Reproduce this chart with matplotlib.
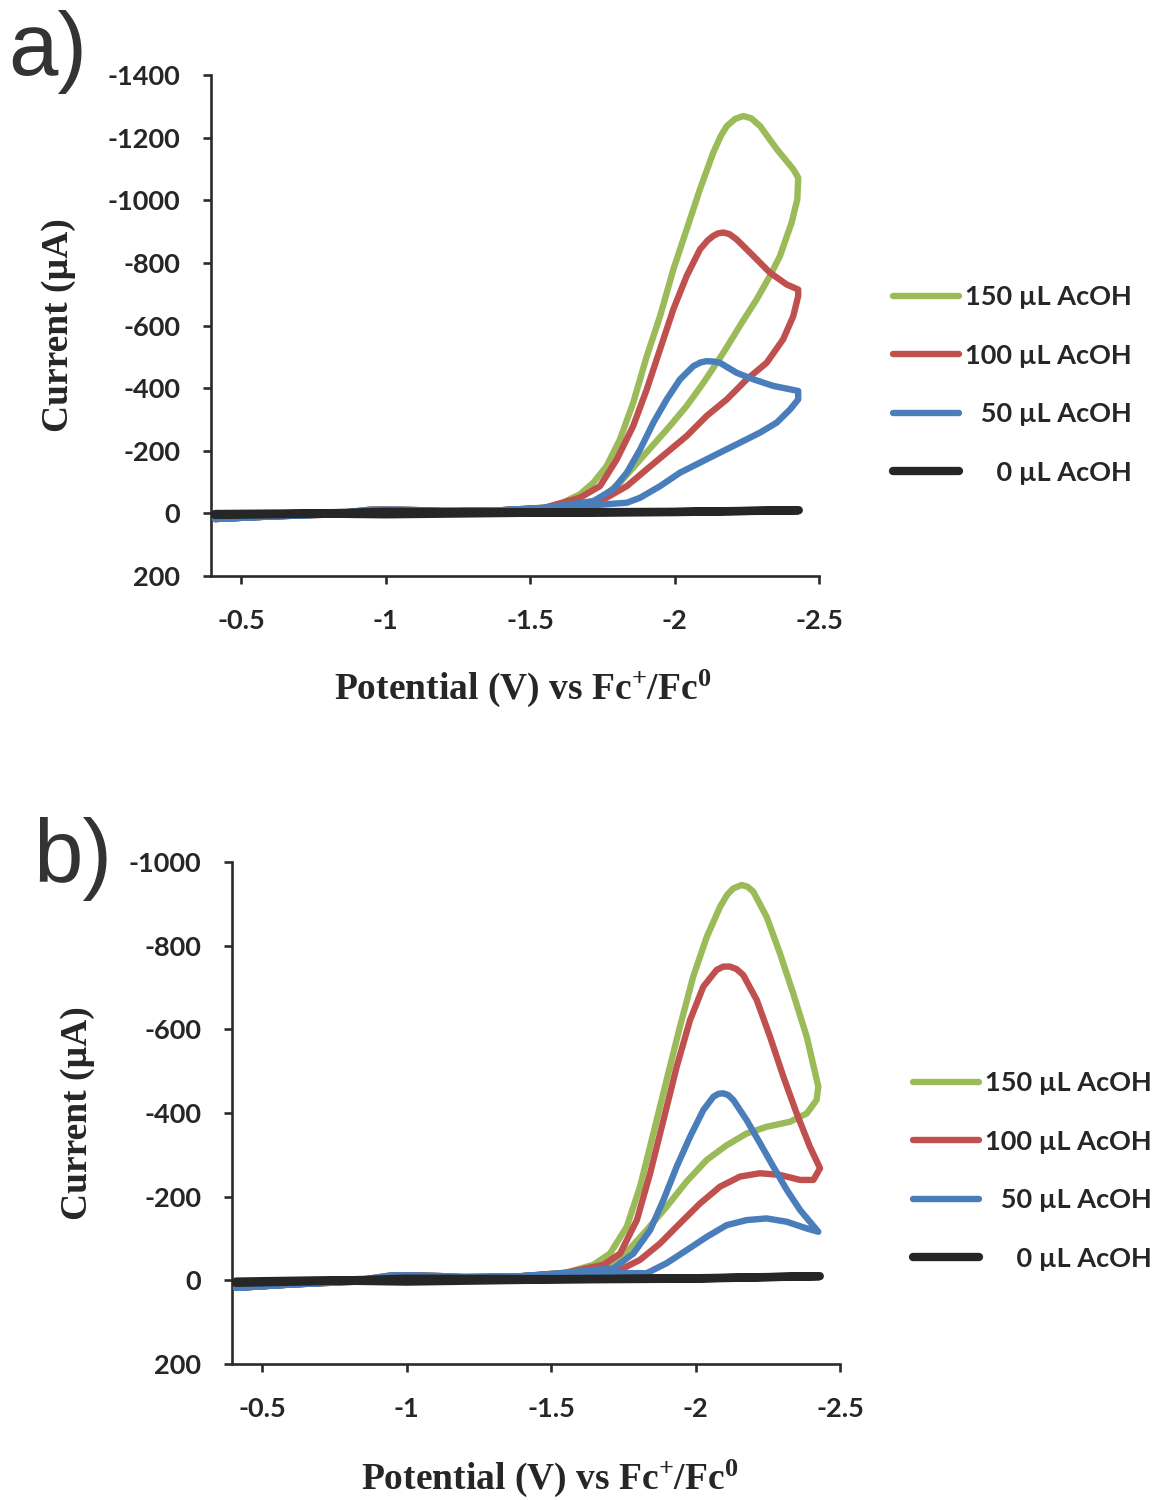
import numpy as np
import matplotlib
matplotlib.use("Agg")
import matplotlib.pyplot as plt
from matplotlib.ticker import FormatStrFormatter

plt.rcParams["font.family"] = ["Lato", "DejaVu Sans"]
plt.rcParams["axes.unicode_minus"] = False
plt.rcParams["mathtext.fontset"] = "custom"
plt.rcParams["mathtext.rm"] = "Liberation Serif:bold"
plt.rcParams["mathtext.bf"] = "Liberation Serif:bold"
plt.rcParams["mathtext.default"] = "rm"

LABELS = ["150 µL AcOH", "100 µL AcOH", "\u200750 µL AcOH", "\u2007\u20070 µL AcOH"]
COLORS = ["#9BBB59", "#C0504D", "#4A7EBB", "#262626"]

X_TICKS = [-0.5, -1.0, -1.5, -2.0, -2.5]

# shared low-current part of the sweeps (V, uA)
BASE_FWD_V = [-0.41, -0.6, -0.8, -0.95, -1.05, -1.2, -1.4, -1.55]
BASE_FWD_I = [18, 10, 3, -12, -12, -8, -10, -18]
BASE_REV_V = [-1.6, -1.4, -1.2, -1.0, -0.8, -0.6, -0.41]
BASE_REV_I = [-18, -10, -6, -2, 4, 10, 18]

# ---- panel a ----
A150_FWD_V = [-1.604, -1.673, -1.719, -1.765, -1.811, -1.857, -1.904, -1.950, -1.996,
              -2.042, -2.088, -2.134, -2.160, -2.181, -2.210, -2.238, -2.265, -2.296,
              -2.354, -2.411, -2.428]
A150_FWD_I = [-30, -61, -98, -151, -236, -353, -502, -630, -779,
              -907, -1035, -1152, -1205, -1237, -1260, -1269, -1262, -1237,
              -1163, -1099, -1072]
A150_REV_V = [-2.425, -2.405, -2.365, -2.330, -2.284, -2.233, -2.169, -2.100, -2.042,
              -1.984, -1.892, -1.811, -1.742, -1.673]
A150_REV_I = [-1003, -928, -822, -758, -683, -609, -513, -417, -343,
              -279, -183, -98, -45, -29]

A100_FWD_V = [-1.673, -1.742, -1.800, -1.857, -1.904, -1.950, -1.996, -2.042, -2.088,
              -2.115, -2.134, -2.150, -2.169, -2.190, -2.215, -2.273, -2.330, -2.388, -2.428]
A100_FWD_I = [-50, -87, -172, -279, -396, -524, -652, -758, -843,
              -872, -886, -894, -897, -892, -875, -822, -769, -731, -715]
A100_REV_V = [-2.428, -2.411, -2.376, -2.319, -2.250, -2.181, -2.111, -2.042, -1.973,
              -1.904, -1.835, -1.765, -1.708]
A100_REV_I = [-694, -630, -556, -481, -428, -364, -311, -247, -194,
              -141, -87, -50, -34]

A50_FWD_V = [-1.719, -1.788, -1.835, -1.881, -1.927, -1.973, -2.019, -2.065, -2.090,
             -2.111, -2.135, -2.157, -2.215, -2.273, -2.342, -2.428]
A50_FWD_I = [-39, -77, -130, -204, -290, -364, -428, -470, -482,
             -486, -485, -481, -449, -428, -407, -391]
A50_REV_V = [-2.428, -2.400, -2.354, -2.296, -2.227, -2.157, -2.088, -2.019, -1.950,
             -1.881, -1.835]
A50_REV_I = [-364, -332, -290, -258, -226, -194, -162, -130, -87, -50, -34]

A0_V = [-0.41, -0.7, -1.0, -1.5, -2.0, -2.43, -2.0, -1.5, -1.0, -0.7, -0.41]
A0_I = [5, 2, -5, -3, -5, -10, -4, -2, 3, 0, 2]

# ---- panel b ----
B150_FWD_V = [-1.646, -1.704, -1.762, -1.808, -1.854, -1.900, -1.946, -1.992, -2.039,
              -2.085, -2.110, -2.131, -2.160, -2.180, -2.200, -2.246, -2.292, -2.338,
              -2.385, -2.425]
B150_FWD_I = [-37, -64, -128, -224, -351, -479, -606, -726, -821,
              -893, -922, -937, -945, -941, -929, -869, -782, -686,
              -582, -463]
B150_REV_V = [-2.419, -2.385, -2.327, -2.246, -2.177, -2.108, -2.039, -1.969, -1.900,
              -1.831, -1.762, -1.693]
B150_REV_I = [-431, -399, -379, -367, -351, -323, -288, -236, -176, -120, -68, -37]

B100_FWD_V = [-1.681, -1.739, -1.797, -1.843, -1.889, -1.935, -1.981, -2.027, -2.073,
              -2.096, -2.119, -2.142, -2.165, -2.212, -2.258, -2.304, -2.350, -2.396, -2.431]
B100_FWD_I = [-37, -64, -144, -256, -383, -511, -622, -702, -742,
              -750, -750, -744, -730, -670, -582, -487, -399, -319, -268]
B100_REV_V = [-2.408, -2.362, -2.292, -2.223, -2.154, -2.085, -2.016, -1.946, -1.877,
              -1.808, -1.739]
B100_REV_I = [-240, -240, -252, -256, -248, -224, -184, -136, -88, -49, -25]

B50_FWD_V = [-1.716, -1.785, -1.843, -1.889, -1.935, -1.981, -2.027, -2.062, -2.080,
             -2.096, -2.113, -2.131, -2.177, -2.223, -2.269, -2.316, -2.362, -2.425]
B50_FWD_I = [-29, -64, -120, -192, -272, -343, -407, -439, -446,
             -447, -443, -431, -383, -328, -272, -216, -168, -116]
B50_REV_V = [-2.385, -2.316, -2.246, -2.177, -2.108, -2.039, -1.969, -1.900, -1.831]
B50_REV_I = [-124, -140, -148, -144, -132, -104, -72, -41, -17]

B0_V = [-0.41, -0.7, -1.0, -1.5, -2.0, -2.43, -2.0, -1.5, -1.0, -0.7, -0.41]
B0_I = [6, 2, -4, -3, -5, -10, -4, -2, 3, 0, 3]


def loop(fwd_v, fwd_i, rev_v, rev_i):
    v = BASE_FWD_V + fwd_v + rev_v + BASE_REV_V
    i = BASE_FWD_I + fwd_i + rev_i + BASE_REV_I
    return np.array(v), np.array(i)


def draw_panel(ax, series, y_lim, y_step, letter, letter_xy, legend_xy, ylab_x, xlab_xy):
    lines = []
    for k, (v, i) in enumerate(series):
        lw = 6.0 if k == 3 else 4.6
        (ln,) = ax.plot(v, i, color=COLORS[k], lw=lw, solid_capstyle="round",
                        solid_joinstyle="round", zorder=2 + k)
        lines.append(ln)

    ax.set_xlim(-0.396, -2.5)
    ax.set_ylim(y_lim[1], y_lim[0])
    ax.set_xticks(X_TICKS)
    ax.set_yticks(np.arange(y_lim[0], y_lim[1] + 1, y_step))
    ax.xaxis.set_major_formatter(FormatStrFormatter("%g"))
    ax.yaxis.set_major_formatter(FormatStrFormatter("%g"))

    for s in ("top", "right"):
        ax.spines[s].set_visible(False)
    for s in ("left", "bottom"):
        ax.spines[s].set_linewidth(1.9)
        ax.spines[s].set_color("#2b2b2b")
    ax.tick_params(direction="out", length=6, width=1.9, color="#2b2b2b",
                   labelsize=19.5, labelcolor="#262626")
    ax.tick_params(axis="x", pad=18)
    ax.tick_params(axis="y", pad=16)
    for lab in ax.get_xticklabels() + ax.get_yticklabels():
        lab.set_fontweight("bold")

    ax.set_ylabel("Current (µA)", family="Liberation Serif", fontweight="bold",
                  fontsize=27, color="#262626")
    ax.yaxis.set_label_coords(ylab_x, 0.5)
    ax.yaxis.label.set_va("center")
    ax.set_xlabel("Potential (V) vs Fc$^{+}$/Fc$^{0}$", family="Liberation Serif",
                  fontweight="bold", fontsize=27, color="#262626")
    ax.xaxis.set_label_coords(*xlab_xy)
    ax.xaxis.label.set_va("center")

    fig = ax.figure
    fig.legend(lines, LABELS, loc="center left", bbox_to_anchor=legend_xy,
               frameon=False, borderpad=0, borderaxespad=0, handlelength=2.45,
               handletextpad=0.2, labelspacing=1.27,
               prop={"family": ["Lato", "DejaVu Sans"], "weight": "bold", "size": 19.5},
               labelcolor="#262626")
    fig.text(letter_xy[0], letter_xy[1], letter, family="Liberation Sans",
             fontsize=64, color="#333333", ha="left", va="baseline")


fig = plt.figure(figsize=(11.54, 15.0), dpi=100)
ax_a = fig.add_axes([211 / 1154, 1 - 576 / 1500, 608 / 1154, 501 / 1500])
ax_b = fig.add_axes([232 / 1154, 1 - 1364 / 1500, 608 / 1154, 502 / 1500])

series_a = [loop(A150_FWD_V, A150_FWD_I, A150_REV_V, A150_REV_I),
            loop(A100_FWD_V, A100_FWD_I, A100_REV_V, A100_REV_I),
            loop(A50_FWD_V, A50_FWD_I, A50_REV_V, A50_REV_I),
            (np.array(A0_V), np.array(A0_I))]
series_b = [loop(B150_FWD_V, B150_FWD_I, B150_REV_V, B150_REV_I),
            loop(B100_FWD_V, B100_FWD_I, B100_REV_V, B100_REV_I),
            loop(B50_FWD_V, B50_FWD_I, B50_REV_V, B50_REV_I),
            (np.array(B0_V), np.array(B0_I))]

draw_panel(ax_a, series_a, (-1400, 200), 200, "a)", (8 / 1154, 1 - 75 / 1500),
           (893 / 1154, 1 - 385 / 1500), -0.2516, (0.513, -0.2236))
draw_panel(ax_b, series_b, (-1000, 200), 200, "b)", (33 / 1154, 1 - 882 / 1500),
           (913 / 1154, 1 - 1171 / 1500), -0.2533, (0.523, -0.227))

fig.savefig("out.png", dpi=100)
